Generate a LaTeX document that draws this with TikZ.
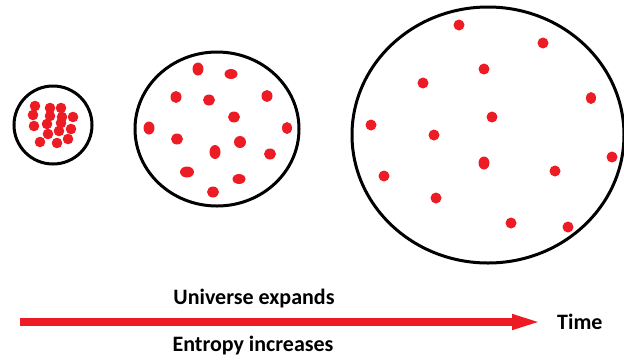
\documentclass[tikz,border=0pt]{standalone}
\usepackage{fontspec}
\setmainfont{Carlito}
\usetikzlibrary{arrows.meta, positioning}
\usepackage{xcolor}
\definecolor{dotred}{RGB}{237,28,36}

\begin{document}
\begin{tikzpicture}[x=1pt, y=-1pt,
  rim/.style={draw=black, line width=3pt},
  dot/.style={fill=dotred},
  lbl/.style={font=\bfseries\fontsize{22}{26}\selectfont, inner sep=0pt}]
  \useasboundingbox (0,0) rectangle (624,360);

  % early universe: dense
  \draw[rim] (53,125) circle [radius=39pt];
  \foreach \x/\y in {35/106, 50/108, 61/108, 33/115, 50/116, 62/117, 73/117,
                     34/126, 47/124, 61/123, 71/129, 48/134, 59/131,
                     40/142, 57/143, 68/139} {
    \fill[dot] (\x,\y) circle [radius=5.3pt];
  }

  % later universe
  \draw[rim] (217,129) ellipse [x radius=82pt, y radius=77pt];
  \foreach \x/\y/\a/\b in {198/69/5.5/6.5, 231/74/6.5/5, 176/97/5.5/6,
                           209/100/6/5.5, 267/96/5.5/6, 234/117/6/5.5,
                           149/128/5.5/6.5, 287/128/5/6, 177/139/6/5.5,
                           240/142/6/6, 215/152/5.5/7, 270/154/6/5.5,
                           187/172/7/5.5, 239/179/6.5/5, 213/192/6/5.5} {
    \fill[dot] (\x,\y) ellipse [x radius=\a pt, y radius=\b pt];
  }

  % much later universe: sparse
  \draw[rim] (488,135) ellipse [x radius=136pt, y radius=128pt];
  \foreach \x/\y in {459/25, 543/43, 484/69, 423/83, 492/117, 371/125,
                     434/135, 612/157, 555/171, 384/176, 436/198,
                     511/223, 568/227} {
    \fill[dot] (\x,\y) circle [radius=5.5pt];
  }
  \fill[dot] (591,98) ellipse [x radius=5pt, y radius=6pt];
  \fill[dot] (484,163) ellipse [x radius=5.5pt, y radius=6.5pt];

  % time axis
  \coordinate (tail) at (20,322);
  \coordinate (head) at (546,322);
  \draw[dotred, line width=8pt, -{Triangle[length=34pt, width=13pt]}] (tail) -- (head);
  \node[lbl, anchor=west, right=11pt of head] (time) {Time};
  \node[lbl] (expand) at (254,299) {Universe expands};
  \node[lbl] (entropy) at (253,346) {Entropy increases};
\end{tikzpicture}
\end{document}
